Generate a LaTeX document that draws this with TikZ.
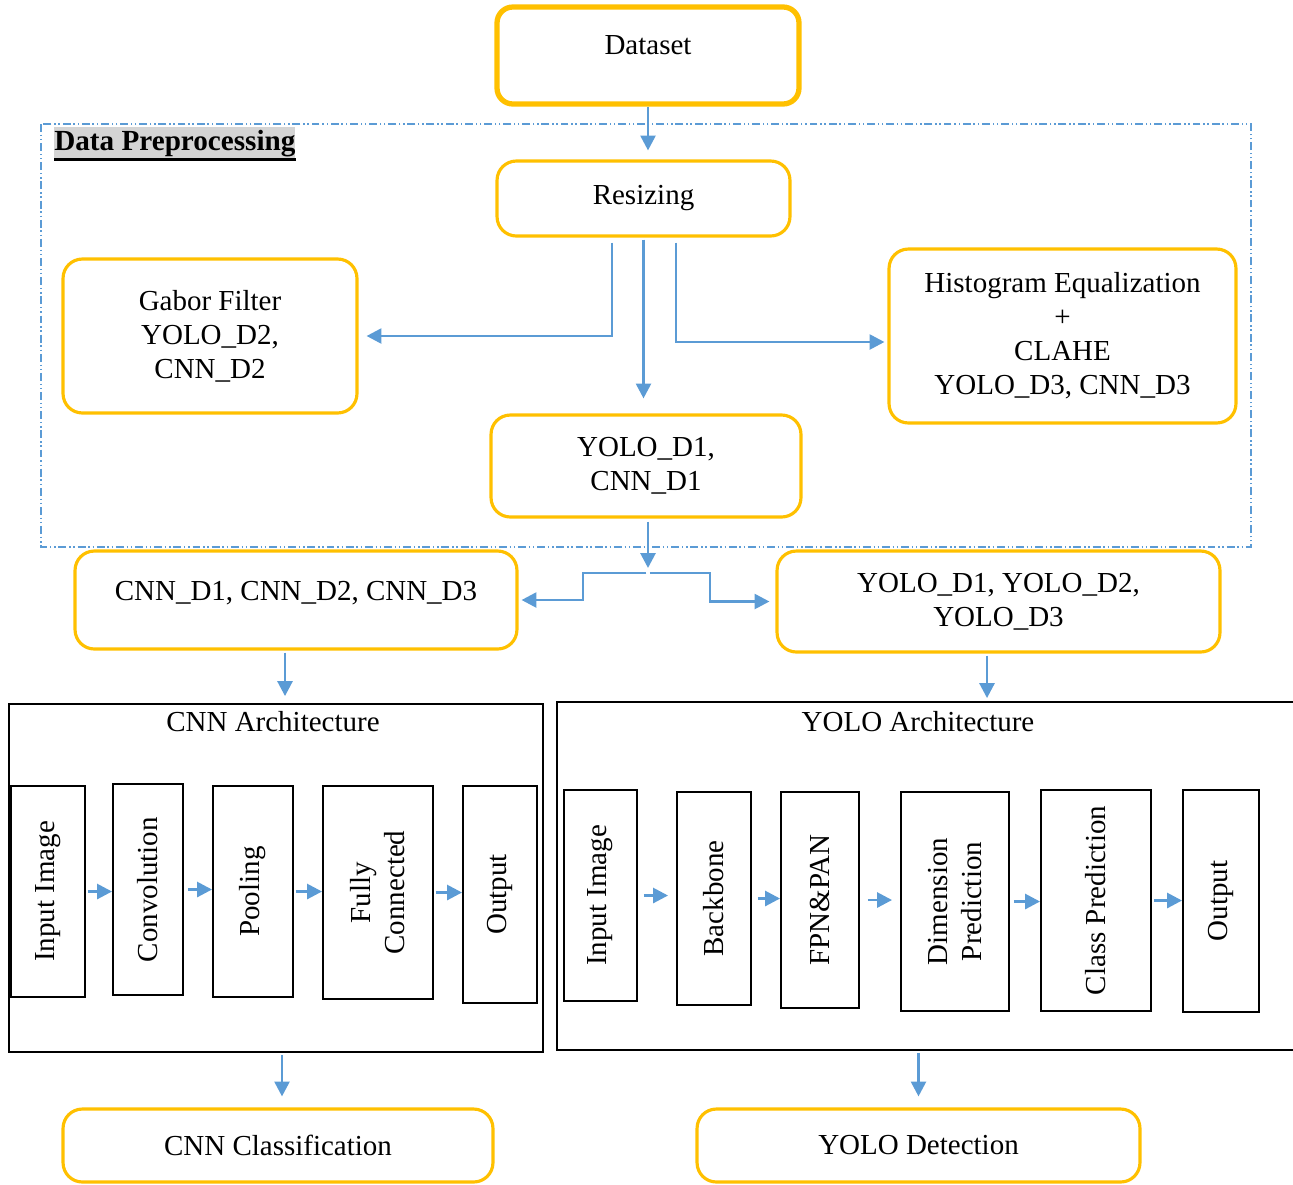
\documentclass[tikz,border=0pt]{standalone}
\usepackage{fontspec}
\setmainfont{Liberation Serif}
\usepackage{xcolor}
\usepackage{tikz}
\usetikzlibrary{arrows.meta}
\definecolor{boxorange}{HTML}{FFC000}
\definecolor{flowblue}{HTML}{5B9BD5}

\begin{document}
\begin{tikzpicture}[x=0.02cm, y=-0.02cm,
  font=\fontsize{16.5}{19.3}\selectfont,
  term/.style={draw=boxorange, line width=3pt, rounded corners=9pt, align=center, inner sep=0pt},
  proc/.style={draw=boxorange, line width=1.8pt, rounded corners=11pt, align=center, inner sep=0pt},
  arch/.style={draw=black, line width=1.1pt, inner sep=0pt},
  stage/.style={draw=black, line width=1.1pt, rotate=90, align=center, inner sep=0pt},
  flow/.style={draw=flowblue, line width=1.6pt, -{Triangle[length=8.5pt, width=8.5pt]}},
  prep/.style={draw=flowblue, line width=0.8pt, dash pattern=on 4.5pt off 1.6pt on 0.8pt off 1.6pt on 0.8pt off 1.6pt},
  hilite/.style={fill=black!17, inner xsep=0pt, inner ysep=1pt, text height=12.5pt, text depth=3.8pt, font=\fontsize{16.6}{19.3}\selectfont\bfseries}]
  \useasboundingbox (0,0) rectangle (1293,1184);
  % preprocessing frame
  \draw[prep] (41,124) rectangle (1251,547);
  \node[hilite, anchor=west] (dphead) at (54,143) {Data Preprocessing};
  \draw[line width=1.7pt] (dphead.south west) -- (dphead.south east);
  \node[term, minimum width=6.04cm, minimum height=1.94cm, text depth=0.4cm] (dataset) at (648,55.5) {Dataset};
  \node[proc, minimum width=5.86cm, minimum height=1.5cm]  (resize)  at (643.5,198.5) {Resizing};
  \node[proc, minimum width=5.88cm, minimum height=3.08cm] (gabor)   at (210,336) {Gabor Filter\\YOLO\_D2,\\CNN\_D2};
  \node[proc, minimum width=6.94cm, minimum height=3.48cm] (hist)    at (1062.5,336) {Histogram Equalization\\+\\CLAHE\\YOLO\_D3, CNN\_D3};
  \node[proc, minimum width=6.2cm, minimum height=2.04cm]  (done)    at (646,466) {YOLO\_D1,\\CNN\_D1};
  \node[proc, minimum width=8.84cm, minimum height=1.96cm, text depth=0.37cm] (cnnset)  at (296,600) {CNN\_D1, CNN\_D2, CNN\_D3};
  \node[proc, minimum width=8.86cm, minimum height=2.02cm] (yoloset) at (998.5,601.5) {YOLO\_D1, YOLO\_D2,\\YOLO\_D3};
  \coordinate (split) at (648,573);
  % architectures
  \node[arch, minimum width=10.68cm, minimum height=6.96cm] (cnnarch)  at (276,878) {};
  \node[arch, minimum width=14.86cm, minimum height=6.96cm] (yoloarch) at (928.5,876) {};
  \node (cnntitle)  at (273,722) {CNN Architecture};
  \node (yolotitle) at (918,722) {YOLO Architecture};
  \node[stage, minimum width=4.22cm, minimum height=1.48cm] (cin)  at (48,891.5)  {Input Image};
  \node[stage, minimum width=4.22cm, minimum height=1.40cm] (conv) at (148,889.5) {Convolution};
  \node[stage, minimum width=4.22cm, minimum height=1.60cm] (pool) at (253,891.5) {Pooling};
  \node[stage, minimum width=4.26cm, minimum height=2.20cm] (fc)   at (378,892.5) {Fully\\Connected};
  \node[stage, minimum width=4.34cm, minimum height=1.48cm] (cout) at (500,894.5) {Output};
  \node[stage, minimum width=4.22cm, minimum height=1.46cm] (yin)  at (600.5,895.5) {Input Image};
  \node[stage, minimum width=4.26cm, minimum height=1.48cm] (bb)   at (714,898.5) {Backbone};
  \node[stage, minimum width=4.32cm, minimum height=1.56cm] (fpn)  at (820,900) {FPN\&PAN};
  \node[stage, minimum width=4.38cm, minimum height=2.16cm] (dim)  at (955,901.5) {Dimension\\Prediction};
  \node[stage, minimum width=4.42cm, minimum height=2.20cm] (cls)  at (1096,900.5) {Class Prediction};
  \node[stage, minimum width=4.44cm, minimum height=1.52cm] (yout) at (1221,901) {Output};
  \node[proc, minimum width=8.6cm, minimum height=1.46cm]  (cnnclass) at (278,1145.5) {CNN Classification};
  \node[proc, minimum width=8.86cm, minimum height=1.46cm] (yolodet)  at (918.5,1145.5) {YOLO Detection};
  % connectors
  \draw[flow, shorten >=0.18cm] (dataset.south) -- (dataset.south |- resize.north);
  \draw[flow, shorten <=0.1cm, shorten >=0.16cm] ([xshift=-0.63cm]resize.south) |- (gabor.east);
  \draw[flow, shorten <=0.04cm, shorten >=0.3cm] (resize.south) -- (resize.south |- done.north);
  \draw[flow, shorten <=0.1cm, shorten >=0.06cm] ([xshift=0.65cm]resize.south) |- ([yshift=-0.12cm]hist.west);
  \draw[flow, shorten <=0.06cm, shorten >=0.1cm] (done.south -| split) -- (split);
  \draw[flow, shorten <=1pt, shorten >=0.06cm] (split) -- ++(-65,0) |- (cnnset.east);
  \draw[flow, shorten <=1pt, shorten >=0.12cm] (split) -- ++(62,0) |- (yoloset.west);
  \draw[flow, shorten <=0.04cm, shorten >=0.14cm] ([xshift=-0.22cm]cnnset.south) -- ([xshift=-0.22cm]cnnset.south |- cnnarch.north);
  \draw[flow, shorten <=0.04cm, shorten >=0.06cm] ([xshift=-0.23cm]yoloset.south) -- ([xshift=-0.23cm]yoloset.south |- yoloarch.north);
  \draw[flow, shorten <=0.04cm] (cin.south) -- (conv.north |- cin.south);
  \draw[flow, shorten <=0.08cm] (conv.south) -- (pool.north |- conv.south);
  \draw[flow, shorten <=0.04cm] (pool.south) -- (fc.north |- pool.south);
  \draw[flow, shorten <=0.04cm] (fc.south) -- (cout.north |- fc.south);
  \draw[flow, shorten <=0.12cm, shorten >=0.16cm] (yin.south) -- (bb.north |- yin.south);
  \draw[flow, shorten <=0.12cm] (bb.south) -- (fpn.north |- bb.south);
  \draw[flow, shorten <=0.16cm, shorten >=0.16cm] (fpn.south) -- (dim.north |- fpn.south);
  \draw[flow, shorten <=0.08cm] (dim.south) -- (cls.north |- dim.south);
  \draw[flow, shorten <=0.04cm] (cls.south) -- (yout.north |- cls.south);
  \draw[flow, shorten <=0.04cm, shorten >=0.22cm] ([xshift=0.08cm]cnnclass.north |- cnnarch.south) -- ([xshift=0.08cm]cnnclass.north);
  \draw[flow, shorten <=0.04cm, shorten >=0.22cm] (yolodet.north |- yoloarch.south) -- (yolodet.north);
\end{tikzpicture}
\end{document}
